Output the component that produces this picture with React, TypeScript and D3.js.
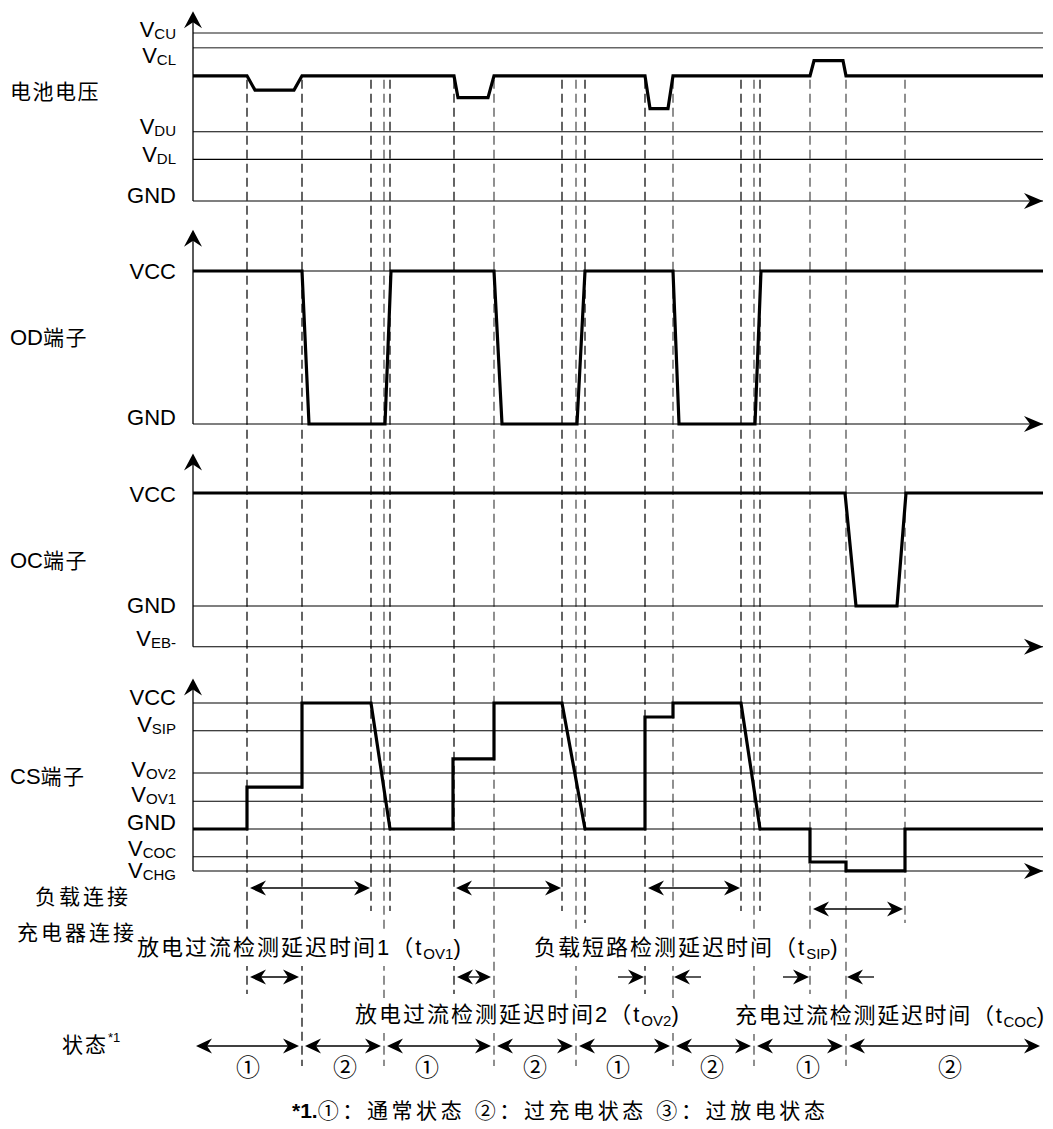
import React, { useEffect, useRef } from "react";
import * as d3 from "d3";

// ---------- DATA ----------
// time axis units (arbitrary schematic time)
const timeDomain: [number, number] = [0, 850];

// event instants (dashed guides) with row they reach and tone
const eventTimes = [54, 109, 178, 191, 197, 261, 301, 369, 383, 392, 452, 480, 548, 561, 567, 617, 653, 712];
const eventReach = ["short", "state", "load", "state", "load", "short", "state", "load", "state", "charger", "short", "state", "load", "state", "load", "short", "state", "charger"];
const eventDark = [1, 1, 1, 0, 1, 1, 0, 1, 0, 1, 1, 0, 1, 0, 1, 0, 0, 0];

// battery voltage
const batteryLevels = [
  { name: "VCU", v: 10, main: "V", sub: "CU", gray: true },
  { name: "VCL", v: 9.12, main: "V", sub: "CL", gray: true },
  { name: "VDU", v: 4.12, main: "V", sub: "DU", gray: false },
  { name: "VDL", v: 2.48, main: "V", sub: "DL", gray: false },
  { name: "GND", v: 0, main: "GND", sub: "", gray: false },
];
const batteryWave: [number, number][] = [
  [0, 7.45], [54, 7.45], [62, 6.6], [101, 6.6], [109, 7.45], [261, 7.45], [265, 6.15], [295, 6.15],
  [301, 7.45], [452, 7.45], [457, 5.5], [475, 5.5], [480, 7.45], [617, 7.45], [621, 8.35], [650, 8.35],
  [653, 7.45], [850, 7.45],
];

// OD terminal
const odLevels = [
  { name: "VCC", v: 1, main: "VCC", sub: "", gray: false },
  { name: "GND", v: 0, main: "GND", sub: "", gray: false },
];
const odWave: [number, number][] = [
  [0, 1], [109, 1], [116, 0], [192, 0], [198, 1], [301, 1], [309, 0], [384, 0], [392, 1],
  [480, 1], [486, 0], [562, 0], [568, 1], [850, 1],
];

// OC terminal
const ocLevels = [
  { name: "VCC", v: 1, main: "VCC", sub: "", gray: false },
  { name: "GND", v: 0, main: "GND", sub: "", gray: false },
  { name: "VEB-", v: -0.36, main: "V", sub: "EB-", gray: false },
];
const ocWave: [number, number][] = [[0, 1], [652, 1], [663, 0], [704, 0], [713, 1], [850, 1]];

// CS terminal
const csLevels = [
  { name: "VCC", v: 10, main: "VCC", sub: "", gray: false },
  { name: "VSIP", v: 7.8, main: "V", sub: "SIP", gray: false },
  { name: "VOV2", v: 4.45, main: "V", sub: "OV2", gray: false },
  { name: "VOV1", v: 2.2, main: "V", sub: "OV1", gray: false },
  { name: "GND", v: 0, main: "GND", sub: "", gray: false },
  { name: "VCOC", v: -2.2, main: "V", sub: "COC", gray: false },
  { name: "VCHG", v: -3.33, main: "V", sub: "CHG", gray: false },
];
const csWave: [number, number][] = [
  [0, 0], [54, 0], [54, 3.33], [109, 3.33], [109, 10], [178, 10], [197, 0], [260, 0], [260, 5.56],
  [301, 5.56], [301, 10], [369, 10], [392, 0], [452, 0], [452, 8.89], [480, 8.89], [480, 10], [548, 10],
  [567, 0], [617, 0], [617, -2.62], [653, -2.62], [653, -3.33], [712, -3.33], [712, 0], [850, 0],
];

// annotation intervals
const loadIntervals: [number, number][] = [[54, 178], [260, 369], [452, 548]];
const chargerIntervals: [number, number][] = [[617, 712]];
const shortDoubles: [number, number][] = [[54, 109], [261, 301]];
const shortOutward: [number, number][] = [[452, 480], [617, 653]];
const states = [
  { t0: 0, t1: 109, label: "①", lt: 55 },
  { t0: 109, t1: 191, label: "②", lt: 152 },
  { t0: 191, t1: 301, label: "①", lt: 234 },
  { t0: 301, t1: 383, label: "②", lt: 342 },
  { t0: 383, t1: 480, label: "①", lt: 425 },
  { t0: 480, t1: 561, label: "②", lt: 519 },
  { t0: 561, t1: 653, label: "①", lt: 615 },
  { t0: 653, t1: 850, label: "②", lt: 757 },
];

// ---------- LAYOUT ----------
const W = 1053, H = 1129;
const LATIN = "'Liberation Sans', Arial, 'Noto Sans CJK SC', sans-serif";
const CJK = "'Liberation Sans', Arial, 'Noto Sans CJK SC', sans-serif";

const xs = d3.scaleLinear().domain(timeDomain).range([193, 1043]);

const panels = [
  { key: "bat", title: "电池电压", titleLatin: "", titleY: 99, domain: [0, 10], range: [201, 33], top: 11.3, bottom: 0, levels: batteryLevels, wave: batteryWave,
    dy: { VCU: 4, VCL: 15, VDU: 2, VDL: 3, GND: 2 } as Record<string, number> },
  { key: "od", title: "端子", titleLatin: "OD", titleY: 345, domain: [0, 1], range: [424, 271], top: 1.27, bottom: 0, levels: odLevels, wave: odWave,
    dy: { VCC: 8, GND: 1 } as Record<string, number> },
  { key: "oc", title: "端子", titleLatin: "OC", titleY: 568, domain: [0, 1], range: [606, 493], top: 1.35, bottom: -0.36, levels: ocLevels, wave: ocWave,
    dy: { VCC: 9, GND: 7, "VEB-": -1 } as Record<string, number> },
  { key: "cs", title: "端子", titleLatin: "CS", titleY: 784, domain: [0, 10], range: [829, 703], top: 11.95, bottom: -3.33, levels: csLevels, wave: csWave,
    dy: { VCC: 2, VSIP: 1, VOV2: 4, VOV1: 1, GND: 1, VCOC: -1, VCHG: 7 } as Record<string, number> },
];

const rowY: Record<string, number> = { load: 911, charger: 923, short: 994, state: 1066 };

function head(x: number, y: number, dx: number, dy: number, L = 16, Wd = 7.5, notch = 5) {
  const px = -dy, py = dx;
  const bx = x - dx * L, by = y - dy * L;
  const nx = x - dx * (L - notch), ny = y - dy * (L - notch);
  return `M${x},${y}L${bx + px * Wd},${by + py * Wd}L${nx},${ny}L${bx - px * Wd},${by - py * Wd}Z`;
}

function DoubleArrow({ x1, x2, y }: { x1: number; x2: number; y: number }) {
  return (
    <g>
      <line x1={x1 + 6} x2={x2 - 6} y1={y} y2={y} stroke="#000" strokeWidth={1.3} />
      <path d={head(x1, y, -1, 0)} fill="#000" />
      <path d={head(x2, y, 1, 0)} fill="#000" />
    </g>
  );
}

function SingleArrow({ from, to, y }: { from: number; to: number; y: number }) {
  const d = Math.sign(to - from);
  return (
    <g>
      <line x1={from} x2={to - d * 6} y1={y} y2={y} stroke="#000" strokeWidth={1.3} />
      <path d={head(to, y, d, 0)} fill="#000" />
    </g>
  );
}

function SubText({ x, y, parts, size = 22, subSize = 15, anchor = "start", spacing = 2 }: any) {
  return (
    <text x={x} y={y} textAnchor={anchor} fontFamily={CJK} fontSize={size} letterSpacing={spacing} fill="#000">
      {parts.map((p: any, i: number) =>
        p.sub ? (
          <tspan key={i} fontSize={subSize} dy={4} letterSpacing={0}>{p.t}</tspan>
        ) : (
          <tspan key={i} dy={i > 0 && parts[i - 1].sub ? -4 : 0}>{p.t}</tspan>
        )
      )}
    </text>
  );
}

const boxedTexts = [
  { x: 137, y: 955, spacing: 2.0, parts: [{ t: "放电过流检测延迟时间1（t" }, { t: "OV1", sub: true }, { t: ")" }] },
  { x: 534, y: 955, spacing: 2.0, parts: [{ t: "负载短路检测延迟时间（t" }, { t: "SIP", sub: true }, { t: ")" }] },
  { x: 355, y: 1022, spacing: 2.0, parts: [{ t: "放电过流检测延迟时间2（t" }, { t: "OV2", sub: true }, { t: ")" }] },
  { x: 735, y: 1023, spacing: 1.7, parts: [{ t: "充电过流检测延迟时间（t" }, { t: "COC", sub: true }, { t: ")" }] },
];

export default function App() {
  const ref = useRef<SVGSVGElement>(null);
  useEffect(() => {
    if (!ref.current) return;
    d3.select(ref.current).selectAll<SVGGElement, unknown>("g.boxed").each(function () {
      const t = this.querySelector("text") as SVGTextElement;
      const b = t.getBBox();
      d3.select(this).select("rect")
        .attr("x", b.x - 3).attr("y", b.y - 4).attr("width", b.width + 6).attr("height", b.height + 8);
    });
  }, []);

  const firstY = d3.scaleLinear().domain(panels[0].domain).range(panels[0].range);
  const dashTop = firstY(7.45) + 4;

  return (
    <svg ref={ref} width={W} height={H} style={{ position: "absolute", left: 0, top: 0, background: "#fff" }}>
      <rect width={W} height={H} fill="#fff" />
      {/* dashed event guides */}
      {eventTimes.map((t, i) => (
        <line key={"ev" + i} x1={xs(t)} x2={xs(t)} y1={dashTop} y2={rowY[eventReach[i]]}
          stroke={eventDark[i] ? "#111" : "#555"} strokeWidth={1.3} strokeDasharray="9 5" />
      ))}

      {panels.map((p) => {
        const ys = d3.scaleLinear().domain(p.domain).range(p.range);
        const line = d3.line<[number, number]>().x((d) => xs(d[0])).y((d) => ys(d[1]));
        const ax = xs(0);
        const yb = ys(p.bottom);
        const yt = ys(p.top);
        return (
          <g key={p.key}>
            {p.levels.map((l) => (
              <line key={l.name} x1={ax} x2={xs(850)} y1={ys(l.v)} y2={ys(l.v)}
                stroke={l.gray ? "#666" : "#000"} strokeWidth={l.gray ? 1.4 : 1.1} />
            ))}
            {/* axes */}
            <line x1={ax} x2={ax} y1={yb} y2={yt + 6} stroke="#000" strokeWidth={1.3} />
            <path d={head(ax, yt, 0, -1, 17, 9, 6)} fill="#000" />
            <path d={head(xs(850), yb, 1, 0, 19, 8, 6)} fill="#000" />
            {/* waveform */}
            <path d={line(p.wave) || ""} fill="none" stroke="#000" strokeWidth={3.2} strokeLinejoin="miter" />
            {/* level labels */}
            {p.levels.map((l) => (
              <text key={"lab" + l.name} x={176} y={ys(l.v) + (p.dy[l.name] ?? 2)} textAnchor="end"
                fontFamily={LATIN} fontSize={22} fill="#000">
                <tspan>{l.main}</tspan>
                {l.sub ? <tspan fontSize={15} dy={2}>{l.sub}</tspan> : null}
              </text>
            ))}
            {/* panel title */}
            <text x={10} y={p.titleY} fontFamily={CJK} fontSize={21} letterSpacing={1.5} fill="#000">
              {p.titleLatin ? <tspan fontSize={22} letterSpacing={0}>{p.titleLatin}</tspan> : null}
              <tspan>{p.title}</tspan>
            </text>
          </g>
        );
      })}

      {/* annotation rows */}
      <text x={35} y={904} fontFamily={CJK} fontSize={21} letterSpacing={3}>负载连接</text>
      <text x={17} y={940} fontFamily={CJK} fontSize={21} letterSpacing={3}>充电器连接</text>
      {loadIntervals.map((d, i) => (
        <DoubleArrow key={"ld" + i} x1={xs(d[0]) + 3} x2={xs(d[1]) - 1} y={888} />
      ))}
      {chargerIntervals.map((d, i) => (
        <DoubleArrow key={"ch" + i} x1={xs(d[0]) + 3} x2={xs(d[1]) - 2} y={909} />
      ))}
      {shortDoubles.map((d, i) => (
        <DoubleArrow key={"sd" + i} x1={xs(d[0]) + 3} x2={xs(d[1]) - 3} y={977} />
      ))}
      {shortOutward.map((d, i) => (
        <g key={"so" + i}>
          <SingleArrow from={xs(d[0]) - 27} to={xs(d[0]) - 1} y={977} />
          <SingleArrow from={xs(d[1]) + 28} to={xs(d[1]) + 1} y={977} />
        </g>
      ))}

      {boxedTexts.map((b, i) => (
        <g key={"bx" + i} className="boxed">
          <rect fill="#fff" />
          <SubText x={b.x} y={b.y} parts={b.parts} spacing={b.spacing} />
        </g>
      ))}

      {/* state row */}
      <text x={62} y={1052} fontFamily={CJK} fontSize={21} letterSpacing={2}>
        状态<tspan fontFamily={LATIN} fontSize={13} dy={-10} letterSpacing={0}>*1</tspan>
      </text>
      {states.map((s, i) => (
        <g key={"st" + i}>
          <DoubleArrow x1={xs(s.t0) + 3} x2={xs(s.t1) - 3} y={1046} />
          <text x={xs(s.lt)} y={1076} textAnchor="middle" fontFamily="'Noto Sans CJK SC', 'DejaVu Sans', sans-serif"
            fontSize={24} fill="#000">{s.label}</text>
        </g>
      ))}

      {/* footnote */}
      <text x={292} y={1118} fontFamily={CJK} fontSize={21} letterSpacing={3.6}>
        <tspan fontFamily={LATIN} fontWeight="bold" letterSpacing={0}>*1.</tspan>①：通常状态 ②：过充电状态 ③：过放电状态
      </text>
    </svg>
  );
}
